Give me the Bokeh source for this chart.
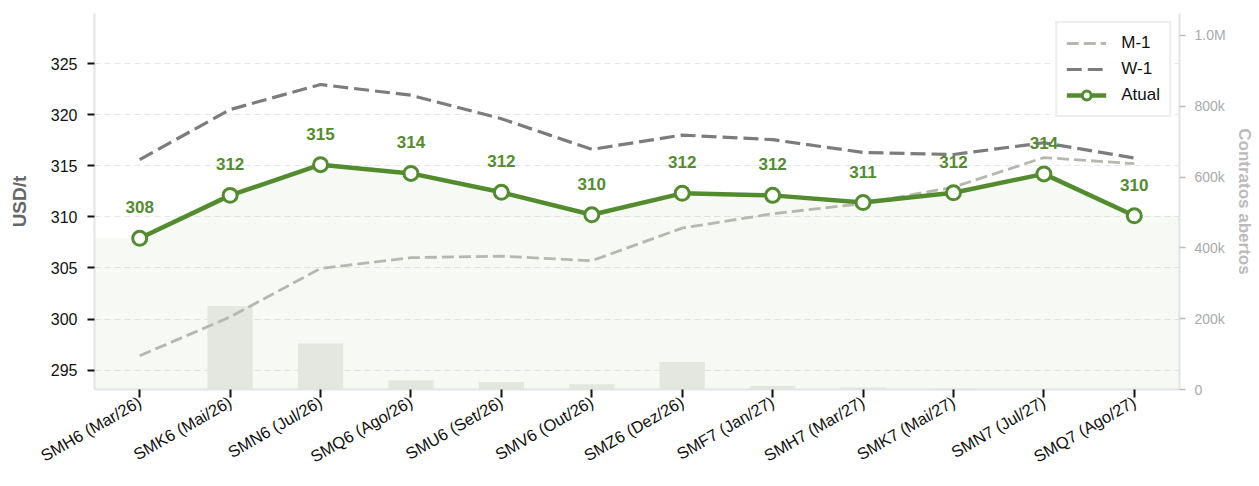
from bokeh.plotting import figure
from bokeh.models import (Range1d, LinearAxis, FixedTicker, CustomJSTickFormatter,
                          ColumnDataSource, Legend, LegendItem, LabelSet)
from bokeh.core.properties import value
from bokeh.embed import file_html
from bokeh.resources import INLINE
import math

# ---------------- data ----------------
contracts = ["SMH6 (Mar/26)", "SMK6 (Mai/26)", "SMN6 (Jul/26)", "SMQ6 (Ago/26)",
             "SMU6 (Set/26)", "SMV6 (Out/26)", "SMZ6 (Dez/26)", "SMF7 (Jan/27)",
             "SMH7 (Mar/27)", "SMK7 (Mai/27)", "SMN7 (Jul/27)", "SMQ7 (Ago/27)"]
atual = [307.9, 312.1, 315.1, 314.25, 312.4, 310.2, 312.3, 312.1, 311.4, 312.35, 314.2, 310.1]
w1 = [315.6, 320.5, 322.95, 321.9, 319.6, 316.6, 318.0, 317.55, 316.3, 316.1, 317.25, 315.75]
m1 = [296.4, 300.2, 304.95, 306.0, 306.15, 305.7, 308.9, 310.3, 311.3, 312.9, 315.8, 315.2]
open_interest = [0, 236000, 130000, 26000, 21000, 15000, 78000, 10000, 6000, 2000, 1000, 500]
left_ticks = [295, 300, 305, 310, 315, 320, 325]
right_ticks = [0, 200000, 400000, 600000, 800000, 1000000]
labels_atual = [str(int(round(v))) for v in atual]

GREEN = "#538C2E"
FONT = "Liberation Sans"

idx = list(range(len(contracts)))
x_range = Range1d(-0.5, len(contracts) - 0.5)
y_range = Range1d(293.1, 329.9)

p = figure(frame_width=1085, frame_height=376, x_range=x_range, y_range=y_range,
           output_backend="svg", toolbar_location=None,
           min_border_left=94, min_border_top=13, min_border_right=10, min_border_bottom=80)
p.outline_line_color = None
p.background_fill_color = "white"
p.border_fill_color = "white"

p.extra_y_ranges = {"oi": Range1d(0, max(open_interest) * 4.5)}

# shaded area under the "Atual" curve
fill_x = [x_range.start] + idx + [x_range.end]
fill_y = [atual[0]] + atual + [atual[-1]]
p.varea(x=fill_x, y1=y_range.start, y2=fill_y, fill_color=GREEN, fill_alpha=0.05)

# open interest bars
p.vbar(x=idx, top=open_interest, width=0.5, bottom=0, y_range_name="oi",
       fill_color="#e4e6e0", line_color=None)

src = ColumnDataSource(dict(x=idx, atual=atual, w1=w1, m1=m1, lab=labels_atual))

r_m1 = p.line("x", "m1", source=src, line_color="#b7b7b2", line_width=2.8, line_dash="12 5")
r_w1 = p.line("x", "w1", source=src, line_color="#7c7c7c", line_width=3.2, line_dash="15 6")
r_at = p.line("x", "atual", source=src, line_color=GREEN, line_width=4.5)
r_sc = p.scatter("x", "atual", source=src, size=14, fill_color="white",
                 line_color=GREEN, line_width=3)

labels = LabelSet(x="x", y="atual", text="lab", source=src, y_offset=25,
                  text_align="center", text_baseline="alphabetic",
                  text_color=GREEN, text_font=value(FONT), text_font_style="bold",
                  text_font_size="17px")
p.add_layout(labels)

# grid
p.xgrid.visible = False
p.ygrid.ticker = FixedTicker(ticks=left_ticks)
p.ygrid.grid_line_color = "#e6e6e6"
p.ygrid.grid_line_dash = "6 4"
p.ygrid.grid_line_width = 1.2

# left axis
ya = p.yaxis[0]
ya.ticker = FixedTicker(ticks=left_ticks)
ya.axis_label = "USD/t"
ya.axis_label_text_font = FONT
ya.axis_label_text_font_style = "bold"
ya.axis_label_text_font_size = "19px"
ya.axis_label_text_color = "#666666"
ya.axis_label_standoff = 18
ya.major_label_text_font = FONT
ya.major_label_text_font_size = "16px"
ya.major_label_text_color = "#111111"
ya.major_label_standoff = 10
ya.axis_line_color = "#e3e3e3"
ya.axis_line_width = 2
ya.major_tick_line_color = "#111111"
ya.major_tick_line_width = 2
ya.major_tick_in = 0
ya.major_tick_out = 7
ya.minor_tick_line_color = None

# bottom axis
xa = p.xaxis[0]
xa.ticker = FixedTicker(ticks=idx)
xa.major_label_overrides = {i: c for i, c in zip(idx, contracts)}
xa.major_label_orientation = math.pi / 6
xa.major_label_text_font = FONT
xa.major_label_text_font_size = "16.5px"
xa.major_label_text_color = "#111111"
xa.major_label_standoff = 3
xa.axis_line_color = "#e3e3e3"
xa.axis_line_width = 2
xa.major_tick_line_color = "#111111"
xa.major_tick_line_width = 2
xa.major_tick_in = 0
xa.major_tick_out = 8
xa.minor_tick_line_color = None

# right axis
ra = LinearAxis(y_range_name="oi", ticker=FixedTicker(ticks=right_ticks),
                formatter=CustomJSTickFormatter(code="""
                    if (tick >= 1e6) { return (tick/1e6).toFixed(1) + 'M'; }
                    if (tick == 0) { return '0'; }
                    return (tick/1e3).toFixed(0) + 'k';
                """))
ra.axis_label = "Contratos abertos"
ra.axis_label_text_font = FONT
ra.axis_label_text_font_style = "bold"
ra.axis_label_text_font_size = "17px"
ra.axis_label_text_color = "#bbbbbb"
ra.axis_label_standoff = 6
ra.major_label_text_font = FONT
ra.major_label_text_font_size = "14px"
ra.major_label_text_color = "#aaaaaa"
ra.major_label_standoff = 9
ra.axis_line_color = "#e3e3e3"
ra.axis_line_width = 2
ra.major_tick_line_color = "#bbbbbb"
ra.major_tick_line_width = 1.5
ra.major_tick_in = 0
ra.major_tick_out = 6
ra.minor_tick_line_color = None
p.add_layout(ra, "right")

legend = Legend(items=[LegendItem(label="M-1", renderers=[r_m1]),
                       LegendItem(label="W-1", renderers=[r_w1]),
                       LegendItem(label="Atual", renderers=[r_at, r_sc])],
                location="top_right")
legend.label_text_font = FONT
legend.label_text_font_size = "17px"
legend.label_text_color = "#111111"
legend.glyph_width = 40
legend.glyph_height = 22
legend.label_standoff = 15
legend.spacing = 4
legend.padding = 9
legend.margin = 8
legend.border_line_color = "#dddddd"
legend.border_line_width = 2
legend.background_fill_color = "white"
legend.background_fill_alpha = 0.85
p.add_layout(legend)

open("out.html", "w").write(file_html(p, INLINE))
